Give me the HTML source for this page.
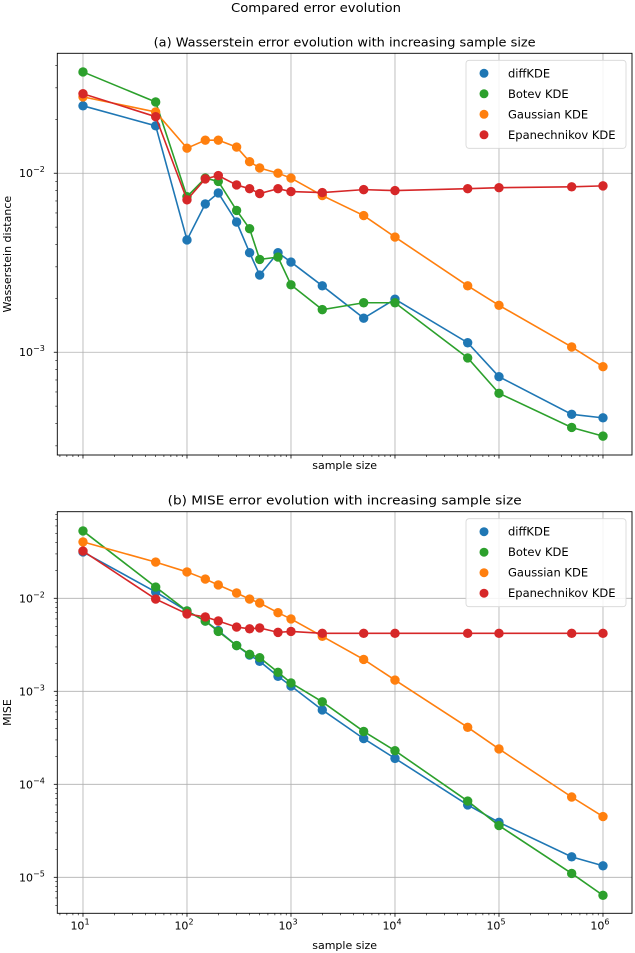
<!DOCTYPE html>
<html><head><meta charset="utf-8"><style>
html,body{margin:0;padding:0;background:#fff;}
svg{display:block;font-family:"DejaVu Sans","Liberation Sans",sans-serif;}
</style></head><body>
<svg id="fig" width="635" height="953" viewBox="0 0 635 953" xmlns="http://www.w3.org/2000/svg">
<text x="316" y="12" text-anchor="middle" font-size="12.5" textLength="170" lengthAdjust="spacingAndGlyphs">Compared error evolution</text>
</svg>
<script>
const xs = [10,50,100,150,200,300,400,500,750,1000,2000,5000,10000,50000,100000,500000,1000000];
const seriesNames = ["diffKDE","Botev KDE","Gaussian KDE","Epanechnikov KDE"];
const seriesColors = ["#1f77b4","#2ca02c","#ff7f0e","#d62728"];
const wDiff = [0.0238,0.0184,0.00424,0.00674,0.00776,0.00534,0.0036,0.0027,0.0036,0.00319,0.00235,0.00155,0.00198,0.00113,0.00073,0.00045,0.00043];
const wBotev = [0.0368,0.025,0.0074,0.0094,0.009,0.0062,0.0049,0.0033,0.0034,0.00238,0.00173,0.00189,0.00189,0.00093,0.00059,0.00038,0.00034];
const wGauss = [0.0267,0.022,0.0138,0.0153,0.0153,0.014,0.0116,0.0107,0.010,0.0094,0.0075,0.0058,0.0044,0.00235,0.00183,0.00107,0.00083];
const wEpan = [0.0278,0.0207,0.0071,0.0093,0.0097,0.0086,0.0082,0.0077,0.0082,0.0079,0.0078,0.0081,0.008,0.0082,0.0083,0.0084,0.0085];
const mDiff = [0.0315,0.0117,0.0073,0.0057,0.0045,0.0031,0.00245,0.0021,0.00145,0.00114,0.00063,0.00031,0.00019,0.00006,0.000039,0.0000166,0.0000133];
const mBotev = [0.053,0.0132,0.0073,0.0057,0.0044,0.0031,0.0025,0.0023,0.0016,0.00123,0.00077,0.00037,0.00023,0.000066,0.000036,0.000011,0.0000064];
const mGauss = [0.0404,0.0245,0.0192,0.0161,0.0139,0.0114,0.0098,0.0089,0.007,0.006,0.0039,0.0022,0.00132,0.00041,0.00024,0.000073,0.000045];
const mEpan = [0.0322,0.0098,0.0068,0.0063,0.0057,0.0049,0.0047,0.0048,0.0043,0.0044,0.0042,0.0042,0.0042,0.0042,0.0042,0.0042,0.0042];
const xTickExps = [1,2,3,4,5,6];
const NS="http://www.w3.org/2000/svg";
const svg=document.getElementById('fig');
function mk(tag,attrs,parent){const e=document.createElementNS(NS,tag);for(const k in attrs)e.setAttribute(k,attrs[k]);(parent||svg).appendChild(e);return e;}
const L=57.3,R=632,xMinE=0.753,xMaxE=6.279;
function xScale(v){return L+(Math.log10(v)-xMinE)/(xMaxE-xMinE)*(R-L);}
function panel(cfg){
  const g=mk('g',{});
  
  
  const T=cfg.top,B=cfg.bottom;
  const yScale=v=>T+(cfg.yMaxE-Math.log10(v))/(cfg.yMaxE-cfg.yMinE)*(B-T);
  // grid
  xTickExps.forEach(e=>{const x=xScale(Math.pow(10,e));const l=mk('line',{x1:x,x2:x,y1:T,y2:B,stroke:'#b0b0b0','stroke-width':0.8},g);
    });
  cfg.yTickExps.forEach(e=>{const y=yScale(Math.pow(10,e));const l=mk('line',{x1:L,x2:R,y1:y,y2:y,stroke:'#b0b0b0','stroke-width':0.8},g);
    });
  // x ticks
  for(let e=0;e<=6;e++){for(let m=1;m<10;m++){const v=m*Math.pow(10,e);const lv=Math.log10(v);if(lv<xMinE||lv>xMaxE)continue;
    const x=xScale(v);mk('line',{x1:x,x2:x,y1:B,y2:B+(m==1?3.5:2),stroke:'#000','stroke-width':m==1?0.8:0.6},g);}}
  if(cfg.xLabels){xTickExps.forEach(e=>{const x=xScale(Math.pow(10,e));const t=mk('text',{x:x-3,y:B+16,'text-anchor':'middle','font-size':11},g);
    
    t.textContent='10';const s=mk('tspan',{dy:-5,'font-size':8},t);s.textContent=String(e);});}
  // y ticks
  for(let e=-7;e<=0;e++){for(let m=1;m<10;m++){const v=m*Math.pow(10,e);const lv=Math.log10(v);if(lv<cfg.yMinE||lv>cfg.yMaxE)continue;
    const y=yScale(v);mk('line',{x1:L,x2:L-(m==1?3.5:2),y1:y,y2:y,stroke:'#000','stroke-width':m==1?0.8:0.6},g);}}
  cfg.yTickExps.forEach(e=>{const y=yScale(Math.pow(10,e));const t=mk('text',{x:19,y:y+4,'font-size':11},g);
    
    t.textContent='10';const s=mk('tspan',{dy:-5,'font-size':8},t);s.textContent='\u2212'+(-e);});
  // series
  cfg.series.forEach((vals,i)=>{const sg=mk('g',{},g);
    
    
    const pts=vals.map((v,j)=>xScale(xs[j]).toFixed(2)+','+yScale(v).toFixed(2)).join(' ');
    mk('polyline',{points:pts,fill:'none',stroke:seriesColors[i],'stroke-width':1.6},sg);
    vals.forEach((v,j)=>{const c=mk('circle',{cx:xScale(xs[j]),cy:yScale(v),r:4.7,fill:seriesColors[i]},sg);
      });});
  // frame
  mk('rect',{x:L,y:T,width:R-L,height:B-T,fill:'none',stroke:'#000','stroke-width':0.9},g);
  // title
  const tt=mk('text',{x:(L+R)/2,y:T-7,'text-anchor':'middle','font-size':12.5,textLength:cfg.titleLen,lengthAdjust:'spacingAndGlyphs'},g);
  tt.textContent=cfg.title;
  const xl=mk('text',{x:(L+R)/2,y:cfg.xLabelY,'text-anchor':'middle','font-size':11},g);
  xl.textContent='sample size';
  const yl=mk('text',{x:0,y:0,'text-anchor':'middle','font-size':11,transform:'translate(11,'+((T+B)/2)+') rotate(-90)'},g);
  yl.textContent=cfg.yLabel;
  // legend
  const lg=mk('g',{},g);
  const ly=T+7;
  mk('rect',{x:466,y:ly,width:160,height:88,rx:3,fill:'#fff','fill-opacity':0.85,stroke:'#d6d6d6','stroke-width':0.8},lg);
  seriesNames.forEach((n,i)=>{const yy=ly+13+i*20.5;
    const e=mk('g',{},lg);
    mk('circle',{cx:484,cy:yy,r:4.5,fill:seriesColors[i]},e);
    const t=mk('text',{x:508,y:yy+4,'font-size':11.5},e);t.textContent=n;});
}
panel({name:'wasserstein-panel',top:53.3,bottom:455,yMaxE:-1.330,yMinE:-3.574,yTickExps:[-2,-3],
  series:[wDiff,wBotev,wGauss,wEpan],title:'(a) Wasserstein error evolution with increasing sample size',titleLen:382,
  xLabels:false,xLabelY:469,yLabel:'Wasserstein distance'});
panel({name:'mise-panel',top:511.7,bottom:913.3,yMaxE:-1.069,yMinE:-5.387,yTickExps:[-2,-3,-4,-5],
  series:[mDiff,mBotev,mGauss,mEpan],title:'(b) MISE error evolution with increasing sample size',titleLen:354,
  xLabels:true,xLabelY:949,yLabel:'MISE'});
</script>
</body></html>
